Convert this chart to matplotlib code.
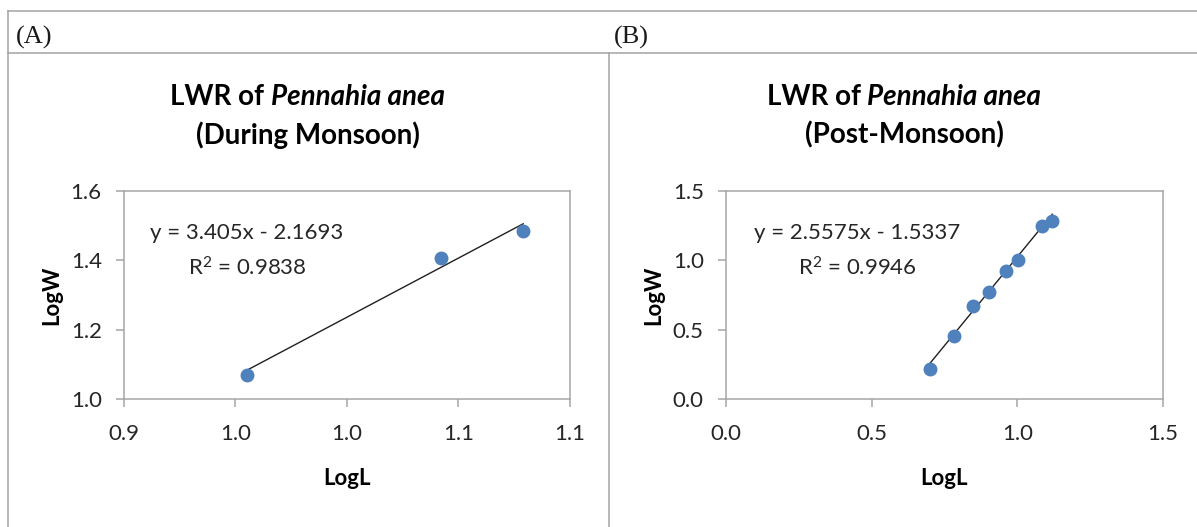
import matplotlib
matplotlib.use("Agg")
import matplotlib.pyplot as plt
from matplotlib.lines import Line2D
import numpy as np

# ---- data -------------------------------------------------------------
logL_monsoon = [0.955, 1.042, 1.079]
logW_monsoon = [1.069, 1.406, 1.485]
fit_monsoon = (3.405, -2.1693)
r2_monsoon = "0.9838"

logL_post = [0.700, 0.783, 0.847, 0.904, 0.960, 1.001, 1.083, 1.120]
logW_post = [0.214, 0.456, 0.670, 0.773, 0.922, 1.001, 1.246, 1.282]
fit_post = (2.5575, -1.5337)
r2_post = "0.9946"

xticks_monsoon = [0.90, 0.95, 1.00, 1.05, 1.10]
xticklabels_monsoon = ["0.9", "1.0", "1.0", "1.1", "1.1"]
yticks_monsoon = [1.0, 1.2, 1.4, 1.6]
yticklabels_monsoon = ["1.0", "1.2", "1.4", "1.6"]

xticks_post = [0.0, 0.5, 1.0, 1.5]
xticklabels_post = ["0.0", "0.5", "1.0", "1.5"]
yticks_post = [0.0, 0.5, 1.0, 1.5]
yticklabels_post = ["0.0", "0.5", "1.0", "1.5"]

species = "Pennahia anea"
seasons = ["(During Monsoon)", "(Post-Monsoon)"]
panel_tags = ["(A)", "(B)"]

# ---- style ------------------------------------------------------------
W, H = 1197, 527
FONT = ["Lato", "DejaVu Sans"]
plt.rcParams["font.family"] = FONT
plt.rcParams["mathtext.fontset"] = "custom"
plt.rcParams["mathtext.rm"] = "Lato"
plt.rcParams["mathtext.it"] = "Lato:italic"
BORDER = "#a3a3a3"
AXCOL = "#a6a6a6"
TXT = "#262626"
DOT = "#4f81bd"

fig = plt.figure(figsize=(W / 100, H / 100), dpi=100)
fig.patch.set_facecolor("white")


def fx(px):
    return px / W


def fy(py):
    return 1 - py / H


# table-like frame around the two panels
for (x0, y0, x1, y1) in [(8, 11, W, 11), (8, 53, W, 53), (8, 11, 8, H), (609, 53, 609, H)]:
    fig.add_artist(Line2D([fx(x0), fx(x1)], [fy(y0), fy(y1)], color=BORDER, lw=1.1,
                          transform=fig.transFigure))

fig.text(fx(16), fy(37), panel_tags[0], family="Liberation Serif", fontsize=19,
         va="center", ha="left", color="#1a1a1a")
fig.text(fx(614), fy(37), panel_tags[1], family="Liberation Serif", fontsize=19,
         va="center", ha="left", color="#1a1a1a")

renderer = fig.canvas.get_renderer()


def mixed_title(cx, cy):
    t1 = fig.text(0, fy(cy), "LWR of ", fontsize=20, fontweight="bold",
                  va="center", ha="left", color="black")
    t2 = fig.text(0, fy(cy), species, fontsize=20, fontweight="bold", style="italic",
                  va="center", ha="left", color="black")
    w1 = t1.get_window_extent(renderer).width
    w2 = t2.get_window_extent(renderer).width
    x0 = cx - (w1 + w2) / 2
    t1.set_x(fx(x0))
    t2.set_x(fx(x0 + w1))


def panel(rect_px, xs, ys, fit, r2, xt, xtl, yt, ytl, xlim, ylim,
          title_cx, season, eq_cx):
    left, top, right, bottom = rect_px
    ax = fig.add_axes([fx(left), fy(bottom), fx(right - left), (bottom - top) / H])
    ax.set_xlim(*xlim)
    ax.set_ylim(*ylim)
    for s in ax.spines.values():
        s.set_color(AXCOL)
        s.set_linewidth(1.1)
    ax.set_xticks(xt)
    ax.set_xticklabels(xtl)
    ax.set_yticks(yt)
    ax.set_yticklabels(ytl)
    ax.tick_params(axis="both", direction="out", length=6, width=1.1, color=AXCOL,
                   labelsize=16, labelcolor=TXT)
    ax.tick_params(axis="x", pad=12)
    ax.tick_params(axis="y", pad=10)

    slope, icpt = fit
    xl = np.array([min(xs), max(xs)])
    ax.plot(xl, slope * xl + icpt, color="#202020", lw=1.0, zorder=2)
    ax.plot(xs, ys, "o", color=DOT, ms=9, mec=DOT, zorder=3)

    ax.set_xlabel("LogL", fontsize=16, fontweight="bold", color="black")
    ax.set_ylabel("LogW", fontsize=16, fontweight="bold", color="black")
    ax.xaxis.set_label_coords(0.5, (bottom - 468) / (bottom - top))
    ax.yaxis.set_label_coords(-62 / (right - left), 0.5)

    mixed_title(title_cx, 97)
    fig.text(fx(title_cx), fy(135), season, fontsize=20, fontweight="bold",
             ha="center", va="center", color="black")

    sign = "-" if icpt < 0 else "+"
    fig.text(fx(eq_cx), fy(233), f"y = {slope:g}x {sign} {abs(icpt):g}", fontsize=16,
             ha="center", va="center", color=TXT)
    fig.text(fx(eq_cx), fy(268), f"R$^2$ = {r2}", fontsize=16,
             ha="center", va="center", color=TXT)
    return ax


panel((124, 190.7, 570, 399), logL_monsoon, logW_monsoon, fit_monsoon, r2_monsoon,
      xticks_monsoon, xticklabels_monsoon, yticks_monsoon, yticklabels_monsoon,
      (0.9, 1.1), (1.0, 1.6), 307.5, seasons[0], 247)

panel((726, 190.7, 1163, 399), logL_post, logW_post, fit_post, r2_post,
      xticks_post, xticklabels_post, yticks_post, yticklabels_post,
      (0.0, 1.5), (0.0, 1.5), 904, seasons[1], 857)

fig.savefig("out.png", dpi=100, facecolor="white")
